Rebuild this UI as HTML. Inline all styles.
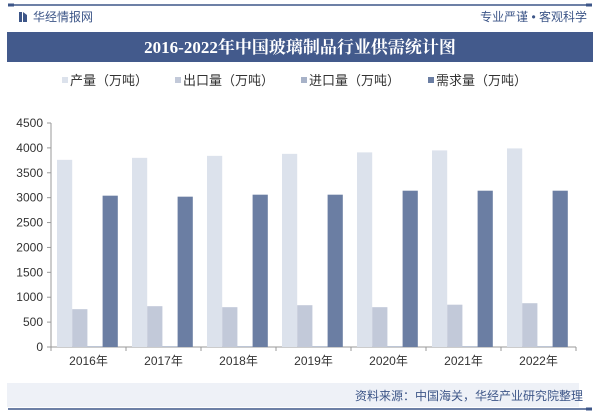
<!DOCTYPE html>
<html><head><meta charset="utf-8"><style>
body{margin:0;width:600px;height:414px;background:#fff;font-family:"Liberation Sans","Noto Sans CJK SC",sans-serif;overflow:hidden;position:relative}
</style></head><body>
<svg width="600" height="414" style="position:absolute;left:0;top:0">
<line x1="8" y1="5" x2="592" y2="5" stroke="#3d5688" stroke-width="1.5"/>
<rect x="8" y="3.5" width="6" height="3" fill="#3d5688"/><rect x="586" y="3.5" width="6" height="3" fill="#3d5688"/>
<rect x="19" y="12" width="3" height="10" fill="#3d5688"/><path d="M23 12 L27 15 L27 22 L23 22Z" fill="#3d5688"/>
<text x="33" y="21" font-size="12" fill="#3d5688">华经情报网</text>
<text x="587" y="21" font-size="12" fill="#3d5688" text-anchor="end">专业严谨 • 客观科学</text>
<rect x="7" y="32" width="586" height="30" fill="#435a8c"/>
<text x="300" y="53" font-size="17" font-weight="bold" fill="#fff" text-anchor="middle" font-family="Liberation Serif,Noto Serif CJK SC,serif">2016-2022年中国玻璃制品行业供需统计图</text>
<g id="legend" font-size="13" fill="#333"></g>
<g id="axes" font-size="12" fill="#333"></g>
<g id="bars"></g>
<rect x="7" y="383" width="572" height="24" fill="#eef1f7"/>
<text x="583" y="400" font-size="12" fill="#3d5688" text-anchor="end">资料来源：中国海关，华经产业研究院整理</text>
<line x1="8" y1="409" x2="592" y2="409" stroke="#3d5688" stroke-width="1.5"/>
<rect x="586" y="407.5" width="6" height="3" fill="#3d5688"/>
</svg>
<script>
const categories=["2016年","2017年","2018年","2019年","2020年","2021年","2022年"];
const production=[3760,3800,3840,3880,3910,3950,3990];
const exportVals=[760,820,800,840,800,850,880];
const importVals=[15,15,15,15,15,15,15];
const demand=[3040,3020,3060,3060,3140,3140,3140];
const yTicks=[0,500,1000,1500,2000,2500,3000,3500,4000,4500];
const seriesNames=["产量（万吨）","出口量（万吨）","进口量（万吨）","需求量（万吨）"];
const NS="http://www.w3.org/2000/svg";
const x0=51,x1=576,y0=347,yTop=123,yMax=4500;
const band=(x1-x0)/categories.length;
const yS=v=>y0-(v/yMax)*(y0-yTop);
const xS=i=>x0+i*band;
const colors=["#dce2ec","#c2c9d9","#a7b2c8","#6b7ea3"];
const series=[production,exportVals,importVals,demand];
function mk(t,a,p){const e=document.createElementNS(NS,t);for(const k in a)e.setAttribute(k,a[k]);p.appendChild(e);return e;}
const ax=document.getElementById('axes');
const al=mk('line',{x1:x0,y1:yTop,x2:x0,y2:y0,stroke:'#999'},ax);


const bl=mk('line',{x1:x0,y1:y0,x2:x1,y2:y0,stroke:'#999'},ax);


yTicks.forEach(v=>{const t=mk('text',{x:x0-8,y:yS(v)+4,'text-anchor':'end'},ax);t.textContent=v;


mk('line',{x1:x0-4,y1:yS(v),x2:x0,y2:yS(v),stroke:'#999'},ax);});
for(let i=0;i<=categories.length;i++)mk('line',{x1:xS(i),y1:y0,x2:xS(i),y2:y0+4,stroke:'#999'},ax);
categories.forEach((c,i)=>{const t=mk('text',{x:xS(i)+band/2,y:y0+18,'text-anchor':'middle'},ax);t.textContent=c;

});
const bg=document.getElementById('bars');
const bw=15.2,off=6;
series.forEach((s,si)=>s.forEach((v,i)=>{const r=mk('rect',{x:xS(i)+off+si*bw,y:yS(v),width:bw,height:y0-yS(v),fill:colors[si]},bg);

}));
const lg=document.getElementById('legend');
const lx=[62,175,301,428];
seriesNames.forEach((n,i)=>{const r=mk('rect',{x:lx[i],y:77,width:6,height:6,fill:colors[i]},lg);


const t=mk('text',{x:lx[i]+8,y:85},lg);t.textContent=n;

});
</script>
</body></html>
